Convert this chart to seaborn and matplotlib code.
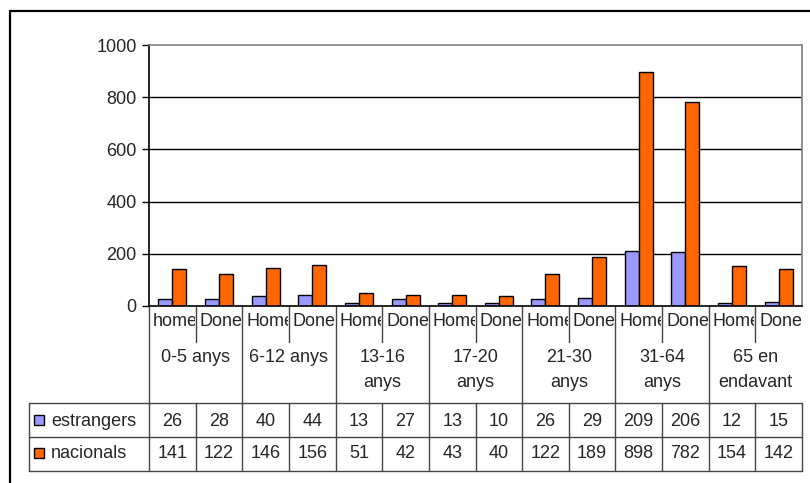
import pandas as pd
import numpy as np
import matplotlib
matplotlib.use("Agg")
import matplotlib.pyplot as plt
import matplotlib.transforms as mtransforms
from matplotlib.patches import Rectangle
import seaborn as sn

# Data
grups = ["0-5 anys", "6-12 anys", "13-16\nanys", "17-20\nanys",
         "21-30\nanys", "31-64\nanys", "65 en\nendavant"]
sexes = ["home", "Done", "Home", "Done", "Home", "Done", "Home", "Done",
         "Home", "Done", "Home", "Done", "Home", "Done"]
estrangers = [26, 28, 40, 44, 13, 27, 13, 10, 26, 29, 209, 206, 12, 15]
nacionals = [141, 122, 146, 156, 51, 42, 43, 40, 122, 189, 898, 782, 154, 142]
series = ["estrangers", "nacionals"]
colors = {"estrangers": "#9999FF", "nacionals": "#FF6600"}
yticks = [0, 200, 400, 600, 800, 1000]

# Long format for seaborn
cats = [f"{i}_{s}" for i, s in enumerate(sexes)]
df = pd.DataFrame({
    "cat": cats * 2,
    "serie": ["estrangers"] * len(cats) + ["nacionals"] * len(cats),
    "valor": estrangers + nacionals,
})

sn.set_style("white")
plt.rcParams["font.family"] = ["Liberation Sans", "DejaVu Sans"]
FS = 13

W, H = 810, 483
fig = plt.figure(figsize=(W / 100, H / 100), dpi=100)

def px(x):
    return x / W

def py(y):
    return 1 - y / H

# plot area in pixels: x 149..802, y 45..306
ax = fig.add_axes([px(149), py(306), px(802) - px(149), py(45) - py(306)])
sn.barplot(data=df, x="cat", y="valor", hue="serie", order=cats,
           hue_order=series, palette=colors, saturation=1, width=0.6,
           edgecolor="black", linewidth=1, legend=False, ax=ax)
ax.set_xlim(-0.5, len(cats) - 0.5)
ax.set_ylim(0, 1000)
ax.set_yticks(yticks)
ax.set_xlabel("")
ax.set_ylabel("")
ax.tick_params(axis="x", length=0, labelbottom=False)
ax.tick_params(axis="y", length=5, width=1, color="black", direction="out",
               labelsize=FS, pad=4, left=True)
for v in yticks[1:-1]:
    ax.axhline(v, color="black", lw=1, zorder=0)
ax.spines["left"].set_color("black")
ax.spines["bottom"].set_color("black")
ax.spines["top"].set_color("#808080")
ax.spines["right"].set_color("#808080")
for s in ax.spines.values():
    s.set_linewidth(1.2)

# blended transform: x in data, y in figure fraction
tr = mtransforms.blended_transform_factory(ax.transData, fig.transFigure)
lc = "#444444"

def vline(x, y0, y1):
    ax.plot([x, x], [py(y0), py(y1)], color=lc, lw=1, transform=tr, clip_on=False)

def hline_fig(x0, x1, y):
    fig.add_artist(plt.Line2D([px(x0), px(x1)], [py(y), py(y)], color=lc, lw=1))

n = len(cats)
# vertical separators
vline(-0.5, 306, 471)
for i in range(1, n):
    if i % 2 == 0:
        vline(i - 0.5, 306, 471)
    else:
        vline(i - 0.5, 306, 342)
        vline(i - 0.5, 403, 471)
vline(n - 0.5, 403, 471)
fig.add_artist(plt.Line2D([px(29), px(29)], [py(403), py(471)], color=lc, lw=1))
for y in (403, 437, 471):
    hline_fig(29, 802, y)

# sub labels, clipped to their cell like in the original
for i, s in enumerate(sexes):
    x0 = ax.transData.transform((i - 0.5, 0))[0]
    x1 = ax.transData.transform((i + 0.5, 0))[0]
    t = fig.text((x0 + 4) / W, py(322), s, ha="left", va="center", fontsize=FS)
    t.set_clip_box(mtransforms.Bbox.from_extents(x0 + 1, 0, x1 - 1, H))
    t.set_clip_on(True)
for g, lab in enumerate(grups):
    ax.text(2 * g + 0.5, py(349), lab, transform=tr, ha="center", va="top",
            fontsize=FS, linespacing=1.6)

# data rows
for r, (serie, vals) in enumerate(zip(series, [estrangers, nacionals])):
    yc = 421 + 33 * r
    for i, v in enumerate(vals):
        ax.text(i, py(yc), str(v), transform=tr, ha="center", va="center", fontsize=FS)
    fig.add_artist(Rectangle((px(34), py(yc + 4)), px(10), py(0) - py(10),
                             facecolor=colors[serie], edgecolor="black", lw=1))
    fig.text(px(51), py(yc), serie, ha="left", va="center", fontsize=FS)

# outer frame of the chart object
fig.add_artist(plt.Line2D([px(10), px(10)], [py(11), 0], color="black", lw=1.6))
fig.add_artist(plt.Line2D([px(10), 1], [py(11), py(11)], color="black", lw=1.6))

fig.savefig("out.png", dpi=100)
